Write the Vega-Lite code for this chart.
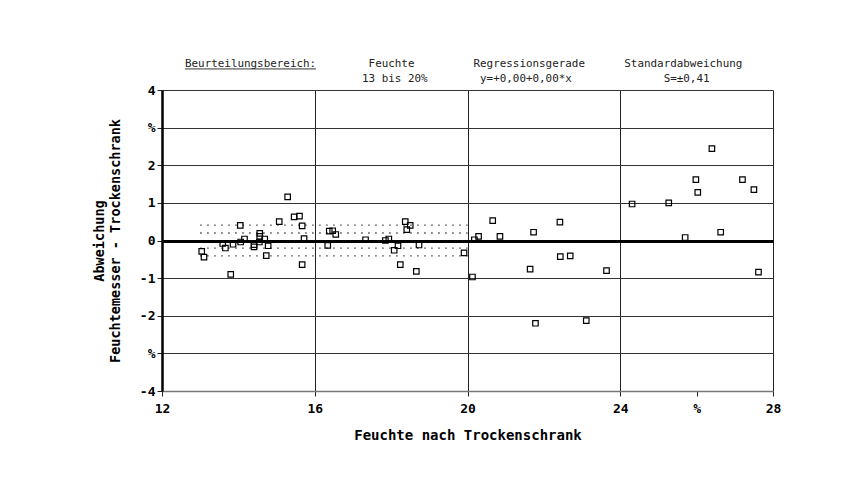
{
  "$schema": "https://vega.github.io/schema/vega-lite/v6.json",
  "autosize": {"type": "none"},
  "padding": {"left": 162, "top": 90, "right": 83, "bottom": 90},
  "width": 611,
  "height": 301,
  "background": "white",
  "config": {"view": {"stroke": null}, "font": "DejaVu Sans Mono"},
  "title": {
    "text": [
      "Beurteilungsbereich:\u00a0\u00a0\u00a0\u00a0\u00a0\u00a0\u00a0\u00a0Feuchte\u00a0\u00a0\u00a0\u00a0\u00a0\u00a0\u00a0\u00a0\u00a0Regressionsgerade\u00a0\u00a0\u00a0\u00a0\u00a0\u00a0Standardabweichung",
      "\u200b\u00a0\u00a0\u00a0\u00a0\u00a0\u00a0\u00a0\u00a0\u00a0\u00a0\u00a0\u00a0\u00a0\u00a0\u00a0\u00a0\u00a0\u00a0\u00a0\u00a0\u00a0\u00a0\u00a0\u00a0\u00a0\u00a0\u00a013 bis 20%\u00a0\u00a0\u00a0\u00a0\u00a0\u00a0\u00a0\u00a0y=+0,00+0,00*x\u00a0\u00a0\u00a0\u00a0\u00a0\u00a0\u00a0\u00a0\u00a0\u00a0\u00a0\u00a0\u00a0\u00a0S=±0,41"
    ],
    "anchor": "start",
    "frame": "group",
    "dx": 23,
    "font": "DejaVu Sans Mono",
    "fontSize": 10.9,
    "fontWeight": "normal",
    "color": "#222",
    "lineHeight": 15,
    "offset": -15
  },
  "datasets": {
    "punkte": [
      {"feuchte": 13.04, "abweichung": -0.29},
      {"feuchte": 13.10, "abweichung": -0.44},
      {"feuchte": 13.59, "abweichung": -0.08},
      {"feuchte": 13.66, "abweichung": -0.20},
      {"feuchte": 13.80, "abweichung": -0.90},
      {"feuchte": 13.86, "abweichung": -0.10},
      {"feuchte": 14.05, "abweichung": 0.40},
      {"feuchte": 14.06, "abweichung": -0.04},
      {"feuchte": 14.16, "abweichung": 0.04},
      {"feuchte": 14.41, "abweichung": -0.11},
      {"feuchte": 14.41, "abweichung": -0.17},
      {"feuchte": 14.56, "abweichung": 0.19},
      {"feuchte": 14.56, "abweichung": 0.11},
      {"feuchte": 14.55, "abweichung": -0.04},
      {"feuchte": 14.69, "abweichung": 0.04},
      {"feuchte": 14.73, "abweichung": -0.40},
      {"feuchte": 14.78, "abweichung": -0.14},
      {"feuchte": 15.07, "abweichung": 0.50},
      {"feuchte": 15.29, "abweichung": 1.16},
      {"feuchte": 15.46, "abweichung": 0.63},
      {"feuchte": 15.60, "abweichung": 0.65},
      {"feuchte": 15.67, "abweichung": 0.39},
      {"feuchte": 15.72, "abweichung": 0.05},
      {"feuchte": 15.67, "abweichung": -0.64},
      {"feuchte": 16.34, "abweichung": -0.13},
      {"feuchte": 16.38, "abweichung": 0.25},
      {"feuchte": 16.47, "abweichung": 0.26},
      {"feuchte": 16.55, "abweichung": 0.16},
      {"feuchte": 17.33, "abweichung": 0.02},
      {"feuchte": 17.85, "abweichung": 0.00},
      {"feuchte": 17.94, "abweichung": 0.04},
      {"feuchte": 18.08, "abweichung": -0.26},
      {"feuchte": 18.18, "abweichung": -0.14},
      {"feuchte": 18.24, "abweichung": -0.64},
      {"feuchte": 18.37, "abweichung": 0.50},
      {"feuchte": 18.41, "abweichung": 0.29},
      {"feuchte": 18.50, "abweichung": 0.40},
      {"feuchte": 18.73, "abweichung": -0.12},
      {"feuchte": 18.66, "abweichung": -0.82},
      {"feuchte": 19.91, "abweichung": -0.33},
      {"feuchte": 20.13, "abweichung": -0.97},
      {"feuchte": 20.18, "abweichung": 0.02},
      {"feuchte": 20.29, "abweichung": 0.11},
      {"feuchte": 20.66, "abweichung": 0.53},
      {"feuchte": 20.85, "abweichung": 0.11},
      {"feuchte": 21.64, "abweichung": -0.76},
      {"feuchte": 21.73, "abweichung": 0.22},
      {"feuchte": 21.78, "abweichung": -2.20},
      {"feuchte": 22.42, "abweichung": 0.49},
      {"feuchte": 22.43, "abweichung": -0.43},
      {"feuchte": 22.69, "abweichung": -0.41},
      {"feuchte": 23.11, "abweichung": -2.13},
      {"feuchte": 23.64, "abweichung": -0.80},
      {"feuchte": 24.31, "abweichung": 0.97},
      {"feuchte": 25.27, "abweichung": 1.00},
      {"feuchte": 25.70, "abweichung": 0.08},
      {"feuchte": 25.98, "abweichung": 1.62},
      {"feuchte": 26.03, "abweichung": 1.28},
      {"feuchte": 26.40, "abweichung": 2.44},
      {"feuchte": 26.63, "abweichung": 0.22},
      {"feuchte": 27.20, "abweichung": 1.62},
      {"feuchte": 27.50, "abweichung": 1.35},
      {"feuchte": 27.62, "abweichung": -0.84}
    ],
    "band": [
      {"feuchte": 13, "feuchte_bis": 20, "abweichung": 0.41},
      {"feuchte": 13, "feuchte_bis": 20, "abweichung": 0.2},
      {"feuchte": 13, "feuchte_bis": 20, "abweichung": -0.2},
      {"feuchte": 13, "feuchte_bis": 20, "abweichung": -0.41}
    ],
    "unterstrich": [
      {"feuchte": 12.6, "feuchte_bis": 16.03, "abweichung": 4.56}
    ]
  },
  "encoding": {
    "x": {
      "field": "feuchte", "type": "quantitative",
      "scale": {"domain": [12, 28], "nice": false, "zero": false},
      "axis": {
        "title": "Feuchte nach Trockenschrank",
        "values": [12, 16, 20, 24, 26, 28],
        "labelExpr": "datum.value == 26 ? '%' : toString(datum.value)",
        "labelOverlap": false,
        "grid": true,
        "gridColor": "#222",
        "gridWidth": 1,
        "gridOpacity": {"condition": {"test": "datum.value == 26", "value": 0}, "value": 1},
        "domainColor": "#777",
        "domainWidth": 1.5,
        "tickColor": "#222",
        "tickSize": 5,
        "labelFont": "DejaVu Sans Mono",
        "labelFontWeight": "bold",
        "labelFontSize": 13,
        "labelColor": "black",
        "labelPadding": 6,
        "labelFlush": false,
        "titleFont": "DejaVu Sans Mono",
        "titleFontWeight": "bold",
        "titleFontSize": 14,
        "titleColor": "black",
        "titlePadding": 13
      }
    },
    "y": {
      "field": "abweichung", "type": "quantitative",
      "scale": {"domain": [-4, 4], "nice": false},
      "axis": {
        "title": ["Abweichung", "Feuchtemesser - Trockenschrank"],
        "values": [-4, -3, -2, -1, 0, 1, 2, 3, 4],
        "labelExpr": "datum.value == 3 || datum.value == -3 ? '%' : toString(datum.value)",
        "labelOverlap": false,
        "grid": true,
        "gridColor": {"condition": {"test": "datum.value == 0", "value": "black"}, "value": "#333"},
        "gridWidth": {"condition": {"test": "datum.value == 0", "value": 3}, "value": 1},
        "domainColor": "black",
        "domainWidth": 2.5,
        "tickColor": "#222",
        "tickSize": 5,
        "labelFont": "DejaVu Sans Mono",
        "labelFontWeight": "bold",
        "labelFontSize": 13,
        "labelColor": "black",
        "labelPadding": 2,
        "labelFlush": false,
        "titleFont": "DejaVu Sans Mono",
        "titleFontWeight": "bold",
        "titleFontSize": 13.5,
        "titleColor": "black",
        "titleLineHeight": 16,
        "titlePadding": 17
      }
    }
  },
  "layer": [
    {
      "data": {"name": "band"},
      "mark": {"type": "rule", "strokeDash": [1.5, 5.5], "stroke": "#444", "strokeWidth": 1.3},
      "encoding": {
        "x2": {"field": "feuchte_bis"}
      }
    },
    {
      "data": {"name": "unterstrich"},
      "mark": {"type": "rule", "stroke": "#333", "strokeWidth": 1, "clip": false},
      "encoding": {
        "x2": {"field": "feuchte_bis"}
      }
    },
    {
      "data": {"name": "punkte"},
      "mark": {"type": "point", "shape": "square", "filled": false, "size": 30, "stroke": "black", "strokeWidth": 1.2, "opacity": 1}
    }
  ]
}
